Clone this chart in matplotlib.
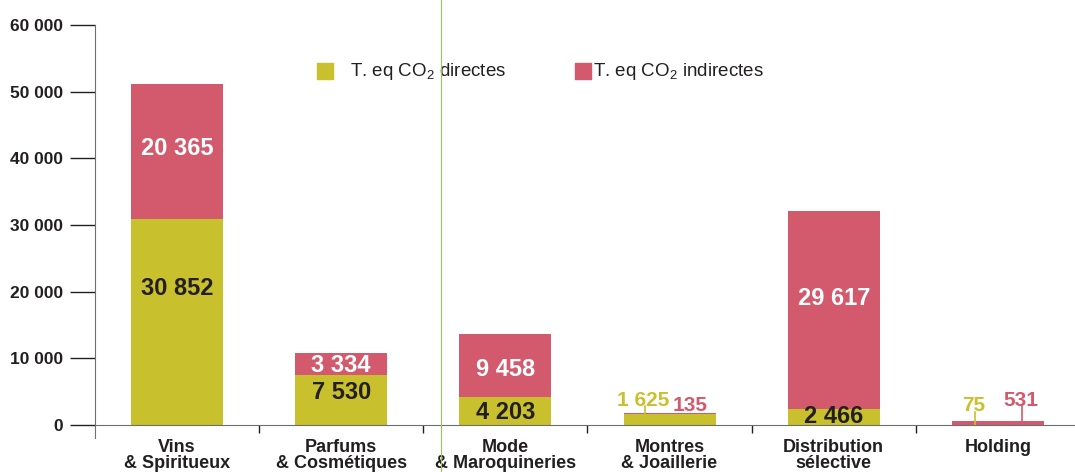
"""
Emissions de CO2 par groupe d'activités : barres empilées directes / indirectes
"""

import matplotlib.pyplot as plt
import numpy as np
from matplotlib.lines import Line2D

plt.rcParams['font.family'] = ['Liberation Sans', 'DejaVu Sans']
plt.rcParams['mathtext.fontset'] = 'custom'
plt.rcParams['mathtext.rm'] = 'Liberation Sans'

categories = ["Vins\n& Spiritueux", "Parfums\n& Cosmétiques", "Mode\n& Maroquineries",
              "Montres\n& Joaillerie", "Distribution\nsélective", "Holding"]
directes = [30852, 7530, 4203, 1625, 2466, 75]
indirectes = [20365, 3334, 9458, 135, 29617, 531]
y_ticks = [0, 10000, 20000, 30000, 40000, 50000, 60000]
y_labels = ["0", "10 000", "20 000", "30 000", "40 000", "50 000", "60 000"]

# where the value sits inside its segment (share of the segment height)
pos_directes = [0.666, 0.657, 0.43, None, 0.49, None]
pos_indirectes = [0.525, 0.40, 0.43, None, 0.555, None]

yellow = "#c9c02d"
red = "#d35a6c"
dark = "#231f20"
grey = "#6d6e70"


def fmt(v):
    return f"{v:,}".replace(",", " ")


fig = plt.figure(figsize=(10.75, 4.72), dpi=100)
ax = fig.add_axes([95 / 1075, 47 / 472, 980 / 1075, 400 / 472])

x = np.arange(len(categories))
ax.bar(x, directes, width=0.56, color=yellow, zorder=2)
ax.bar(x, indirectes, width=0.56, bottom=directes, color=red, zorder=2)

for i, (d, r) in enumerate(zip(directes, indirectes)):
    if pos_directes[i] is not None:
        ax.text(i, d * pos_directes[i], fmt(d), ha="center", va="center", color=dark,
                fontsize=17, fontweight="bold")
        ax.text(i, d + r * pos_indirectes[i], fmt(r), ha="center", va="center",
                color="white", fontsize=17, fontweight="bold")

# small segments: labels above the bar with leader lines
# Montres & Joaillerie
ax.text(3 - 0.158, 2850, fmt(directes[3]), ha="center", va="baseline", color=yellow,
        fontsize=15, fontweight="bold")
ax.text(3 + 0.128, 2100, fmt(indirectes[3]), ha="center", va="baseline", color=red,
        fontsize=15, fontweight="bold")
ax.plot([3 - 0.152] * 2, [directes[3] + indirectes[3], 2850], color=yellow, lw=1.2, zorder=3)
# Holding
ax.text(5 - 0.146, 2100, fmt(directes[5]), ha="center", va="baseline", color=yellow,
        fontsize=15, fontweight="bold")
ax.text(5 + 0.14, 2850, fmt(indirectes[5]), ha="center", va="baseline", color=red,
        fontsize=15, fontweight="bold")
ax.plot([5 - 0.14] * 2, [0, 1950], color=yellow, lw=1.2, zorder=3)
ax.plot([5 + 0.146] * 2, [directes[5] + indirectes[5], 2850], color=red, lw=1.2, zorder=3)

# Legend drawn as squares + text
ax.scatter([0.904], [53100], marker="s", s=117, color=yellow, clip_on=False)
ax.text(1.056, 53100, "T. eq CO$_2$ directes", va="center", fontsize=13.5, color=dark)
ax.scatter([2.47], [53100], marker="s", s=117, color=red, clip_on=False)
ax.text(2.533, 53100, "T. eq CO$_2$ indirectes", va="center", fontsize=13.5, color=dark)

ax.set_xlim(-0.5, 5.47)
ax.set_ylim(0, 60000)

ax.set_yticks(y_ticks)
ax.set_yticklabels(y_labels, fontsize=12.5, fontweight="bold", color=dark)
ax.tick_params(axis="y", length=18, width=1, color=dark, pad=5)

ax.set_xticks(x)
ax.set_xticklabels(categories, fontsize=13, fontweight="bold", color=dark, linespacing=0.95)
ax.tick_params(axis="x", which="major", length=0, pad=10)
ax.set_xticks(np.arange(0.5, 5, 1), minor=True)
ax.tick_params(axis="x", which="minor", length=6, width=1, color=dark)

for s in ["top", "right"]:
    ax.spines[s].set_visible(False)
ax.spines["left"].set_color(grey)
ax.spines["left"].set_bounds(-1950, 60000)
ax.spines["bottom"].set_color(grey)

# Thin stray green rule crossing the whole graphic
fig.add_artist(Line2D([441 / 1075, 441 / 1075], [0, 1], color="#9cc45a", lw=0.8))

fig.savefig("out.png", dpi=100)
